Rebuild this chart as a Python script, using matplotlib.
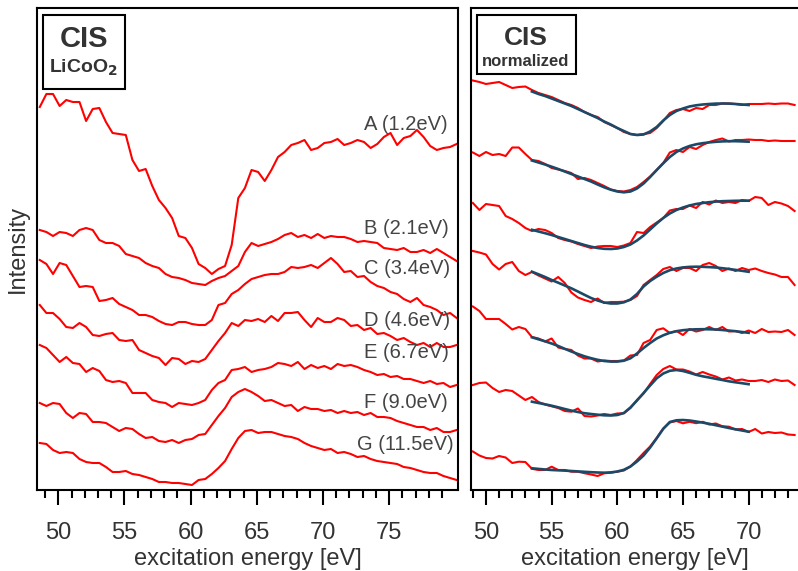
import numpy as np
import matplotlib
matplotlib.use("Agg")
import matplotlib.pyplot as plt
from matplotlib.patches import Rectangle

plt.rcParams["font.family"] = ["Liberation Sans", "DejaVu Sans"]

# ---- left panel: CIS spectra of LiCoO2 (arb. units, vertically offset) ----
energy_left = np.round(np.arange(48.6, 80.15, 0.5), 2)

spec_A = [393, 406, 406, 394, 400, 398, 398, 379, 391, 392,
          378, 367, 366, 365, 340, 329, 331, 314, 300, 292,
          282, 264, 262, 252, 236, 232, 226, 231, 234, 255,
          302, 312, 330, 328, 319, 330, 343, 348, 355, 357,
          360, 350, 352, 357, 358, 361, 355, 357, 360, 358,
          352, 356, 363, 367, 355, 362, 364, 370, 363, 354,
          350, 352, 353, 356]
spec_B = [270, 268, 264, 268, 267, 264, 270, 272, 270, 260,
          257, 257, 254, 246, 244, 242, 237, 234, 232, 226,
          223, 222, 220, 217, 216, 215, 219, 222, 224, 229,
          234, 248, 257, 254, 256, 258, 261, 265, 267, 263,
          265, 262, 266, 262, 264, 263, 263, 261, 258, 259,
          258, 257, 252, 251, 250, 252, 248, 248, 250, 247,
          251, 247, 243, 239]
spec_C = [240, 236, 226, 237, 235, 224, 213, 214, 213, 199,
          200, 202, 196, 193, 190, 185, 185, 183, 179, 176,
          175, 178, 178, 176, 175, 175, 180, 195, 197, 206,
          210, 216, 221, 223, 225, 226, 226, 228, 233, 232,
          233, 235, 232, 237, 242, 236, 228, 229, 223, 224,
          218, 214, 212, 208, 206, 201, 198, 202, 195, 193,
          190, 185, 187, 182]
spec_D = [195, 187, 187, 181, 173, 172, 177, 173, 165, 164,
          166, 167, 160, 159, 160, 150, 147, 144, 142, 135,
          142, 141, 136, 139, 138, 141, 150, 159, 167, 177,
          174, 180, 179, 181, 178, 184, 179, 187, 187, 188,
          180, 173, 182, 178, 178, 182, 180, 174, 175, 170,
          172, 166, 167, 164, 160, 162, 158, 155, 157, 153,
          157, 153, 153, 155]
spec_E = [155, 152, 145, 138, 143, 137, 136, 128, 132, 129,
          120, 118, 119, 117, 107, 107, 107, 100, 98, 97,
          93, 97, 96, 95, 97, 100, 110, 117, 120, 130,
          131, 133, 128, 130, 131, 133, 137, 136, 134, 138,
          131, 135, 132, 134, 131, 136, 134, 135, 133, 130,
          128, 125, 126, 123, 124, 121, 121, 119, 117, 119,
          116, 117, 113, 115]
spec_F = [97, 94, 97, 96, 87, 82, 87, 86, 78, 78,
          77, 73, 69, 72, 71, 66, 62, 63, 59, 58,
          60, 57, 60, 61, 65, 66, 75, 84, 92, 103,
          108, 111, 108, 104, 99, 100, 97, 94, 95, 89,
          93, 91, 91, 89, 90, 87, 89, 87, 88, 85,
          87, 83, 83, 82, 79, 77, 75, 73, 73, 70,
          72, 68, 68, 70]
spec_G = [57, 56, 50, 47, 48, 47, 41, 38, 37, 37,
          33, 28, 28, 29, 26, 25, 23, 21, 18, 18,
          17, 17, 16, 15, 20, 21, 26, 32, 39, 51,
          62, 69, 70, 67, 68, 68, 66, 64, 63, 61,
          57, 54, 52, 50, 51, 47, 48, 46, 43, 44,
          41, 39, 38, 37, 36, 33, 32, 30, 28, 27,
          27, 24, 22, 20]

left_labels = ["A (1.2eV)", "B (2.1eV)", "C (3.4eV)", "D (4.6eV)",
               "E (6.7eV)", "F (9.0eV)", "G (11.5eV)"]
label_x = [73.1, 73.1, 73.1, 73.1, 73.1, 73.1, 72.6]
label_y = [376, 272, 231, 180, 147, 97, 55]

# ---- right panel: normalized spectra with fits ----
energy_right = np.round(np.arange(49.0, 73.55, 0.5), 2)
energy_fit = np.round(np.arange(53.5, 70.05, 0.5), 2)

norm_1 = [419.5, 418, 416, 417, 418, 415, 412, 413, 413.5, 410,
          407, 405, 403, 400, 397, 395, 392, 388, 385, 383,
          378, 375, 372, 368, 366, 365, 366, 367, 372, 379,
          387, 390, 391, 389, 392, 391, 395, 395, 396.5, 396.5,
          396, 395, 396, 396, 396, 396.5, 396, 396.5, 396.5, 395]
norm_2 = [347.5, 344, 348, 345, 346, 344, 352.5, 352.5, 346, 340,
          339, 336, 332, 330.5, 329, 327, 321, 322, 320, 317,
          314, 310.5, 309, 308.5, 310, 313, 318, 323.5, 330, 337,
          347.5, 350, 348, 353, 351, 355, 358, 360, 361.5, 358.5,
          360, 360, 360.5, 360, 360, 359, 359.5, 359, 359, 359]
norm_3 = [297, 290, 296, 295, 294, 284, 281, 277, 272, 269,
          271, 270, 267, 262, 260, 258.5, 256, 254, 252, 253.5,
          254, 254, 253, 254.5, 257, 268, 267, 273, 277.5, 282,
          289.5, 291, 291, 294.5, 292, 298, 295.5, 299.5, 297, 298,
          297, 300, 299, 303, 302, 295, 298, 296.5, 294, 289]
norm_4 = [249, 247.5, 245.5, 236, 230.5, 236, 238, 229, 225, 228,
          224.5, 221.5, 218.5, 223, 217, 207.5, 202.5, 200, 198, 201.5,
          197, 198, 198, 198.3, 200, 204, 215, 220, 225, 231,
          233, 229, 232, 232, 229, 235, 237, 234, 229, 231.5,
          229, 232, 230, 231.5, 229, 227, 225.5, 223, 223, 215]
norm_5 = [193.5, 189, 181, 181, 181, 176, 170.5, 173, 171, 163,
          161.5, 158.5, 161.5, 152.5, 151, 150, 144.5, 141.5, 141.5, 138.5,
          139.5, 139, 139, 139.5, 144.5, 145, 157, 160, 170, 171.7,
          167, 169, 165, 171, 168.5, 170, 173, 170, 173, 168.5,
          169, 167, 169.5, 167, 171, 168, 168.5, 168, 170, 165]
norm_6 = [115, 117, 117.5, 112, 108, 110, 109, 104.5, 100, 103,
          98, 95.5, 93.7, 92, 89, 88.3, 91.5, 84, 83.5, 84.5,
          86, 85, 86.5, 86.7, 92, 100, 106.5, 116, 125, 131,
          134, 130.5, 130.5, 128.5, 125.5, 128, 125.5, 123.5, 120.5, 122.5,
          119.5, 120.5, 119, 119, 120, 118, 120.5, 119, 119.5, 115]
norm_7 = [48.5, 44.5, 42, 41.5, 44, 42.5, 37, 38.3, 38, 31.2,
          30, 30, 33.3, 30, 30, 28.3, 28.3, 26.8, 25.5, 24,
          26.7, 27.3, 28.3, 29.5, 33.5, 40, 47, 53.5, 62, 71.5,
          77.5, 79, 76.7, 78.2, 76.8, 78.2, 75.5, 76.5, 73.7, 73.3,
          70.5, 71, 68, 71, 66.5, 68, 67, 67.5, 65.5, 65]

fit_1 = [408.5, 406, 404, 401.5, 399, 396.5, 394, 391, 388, 385,
         382, 378.5, 375.5, 372, 369, 366, 365, 365.5, 368.5, 373,
         379.5, 385, 389, 391.5, 393.5, 394.7, 395.5, 396, 396.4, 396.5,
         396.4, 396, 395.5, 395]
fit_2 = [339.5, 337.5, 335.5, 333.3, 331, 328.5, 326, 323.5, 321, 318.5,
         315.5, 312.7, 310.3, 308.5, 307.7, 308.5, 311.5, 316.5, 323, 330,
         336.7, 343, 348, 351.5, 354, 355.7, 356.8, 357.6, 358.2, 358.6,
         358.8, 358.8, 358.6, 358.3]
fit_3 = [270.2, 268.5, 266.8, 265, 263, 261, 259, 257, 255, 253.3,
         252, 251.2, 251, 251.5, 253, 255.5, 259.5, 264.5, 270.5, 276.5,
         282, 286.5, 290, 292.5, 294.5, 296, 297, 297.8, 298.4, 298.8,
         299, 299.2, 299.3, 299.3]
fit_4 = [228.3, 225.7, 223, 220, 217.3, 214.5, 211.7, 208.5, 205.2, 202,
         199.5, 197.5, 196.5, 196.5, 197.7, 200.5, 206, 213.5, 219, 223.3,
         227, 229.8, 231.5, 232.6, 233.1, 233.3, 233.2, 232.9, 232.5, 231.8,
         231, 230.1, 229.2, 228.2]
fit_5 = [162.7, 160.7, 158.7, 156.5, 154, 151.2, 148.5, 146, 143.7, 141.8,
         140.2, 139, 138.4, 138.4, 139.3, 141.7, 146.5, 152, 157, 161.5,
         164.7, 167.2, 168.8, 169.8, 170.4, 170.7, 170.8, 170.7, 170.5, 170,
         169.4, 168.8, 168, 167.2]
fit_6 = [98.3, 97, 95.7, 94.3, 92.7, 91, 89.4, 88, 86.8, 86,
         85.3, 84.7, 84.5, 85, 87, 92.5, 99.5, 107, 114.5, 121.7,
         126.5, 129.2, 130, 129, 127.2, 125.2, 123.7, 122.5, 121.2, 120,
         118.7, 117.7, 116.8, 115.8]
fit_7 = [31.7, 31.1, 30.5, 30, 29.7, 29.4, 29, 28.6, 28.2, 27.8,
         27.5, 27.3, 27.6, 28.5, 30.2, 33.5, 38.5, 44.5, 52.5, 61.7,
         71.2, 78, 79.7, 80, 79.5, 78.5, 77.4, 76.2, 74.8, 73.4,
         72, 70.7, 69.5, 68.3]

left_major = [50, 55, 60, 65, 70, 75]
left_minor = [e for e in range(49, 80) if e % 5]
right_major = [50, 55, 60, 65, 70]
right_minor = [e for e in range(49, 74) if e % 5]

RED = "#ff0000"
FIT = "#1b4968"
TXT = "#333333"

fig = plt.figure(figsize=(7.98, 5.71), dpi=100)
ax1 = fig.add_axes([37 / 798, 81 / 571, 421 / 798, 482 / 571])
ax2 = fig.add_axes([471 / 798, 81 / 571, 327 / 798, 482 / 571])

for spec in [spec_A, spec_B, spec_C, spec_D, spec_E, spec_F, spec_G]:
    ax1.plot(energy_left, spec, color=RED, lw=1.5)
for lab, lx, ly in zip(left_labels, label_x, label_y):
    ax1.text(lx, ly, lab, fontsize=14.5, color="#444444", ha="left", va="center")

for spec in [norm_1, norm_2, norm_3, norm_4, norm_5, norm_6, norm_7]:
    ax2.plot(energy_right, spec, color=RED, lw=1.5)
for fit in [fit_1, fit_2, fit_3, fit_4, fit_5, fit_6, fit_7]:
    ax2.plot(energy_fit, fit, color=FIT, lw=1.9)

ax1.set_xlim(48.39, 80.2)
ax2.set_xlim(48.86, 73.76)
ax1.set_xticks(left_major)
ax1.set_xticks(left_minor, minor=True)
ax2.set_xticks(right_major)
ax2.set_xticks(right_minor, minor=True)
for ax in (ax1, ax2):
    ax.set_ylim(10, 492)
    ax.set_yticks([])
    ax.tick_params(axis="x", which="major", direction="out", length=11, width=1.5,
                   labelsize=17, labelcolor=TXT, pad=12)
    ax.tick_params(axis="x", which="minor", direction="out", length=6, width=1.5)
    for sp in ax.spines.values():
        sp.set_linewidth(1.5)
    ax.set_xlabel("excitation energy [eV]", fontsize=17, color=TXT, labelpad=3)
ax2.spines["right"].set_visible(False)
ax1.set_ylabel("Intensity", fontsize=17, color=TXT, labelpad=6)

# title boxes
ax1.add_patch(Rectangle((0.0143, 0.832), 0.195, 0.1535, transform=ax1.transAxes,
                        fill=False, ec="black", lw=1.5, zorder=5))
ax1.text(0.1116, 0.936, "CIS", transform=ax1.transAxes, fontsize=21,
         fontweight="bold", color=TXT, ha="center", va="center")
ax1.text(0.11, 0.876, r"LiCoO$_\mathbf{2}$", transform=ax1.transAxes, fontsize=14,
         fontweight="bold", color=TXT, ha="center", va="center")

ax2.add_patch(Rectangle((0.018, 0.863), 0.303, 0.1225, transform=ax2.transAxes,
                        fill=False, ec="black", lw=1.5, zorder=5))
ax2.text(0.168, 0.938, "CIS", transform=ax2.transAxes, fontsize=19,
         fontweight="bold", color=TXT, ha="center", va="center")
ax2.text(0.168, 0.89, "normalized", transform=ax2.transAxes, fontsize=12,
         fontweight="bold", color=TXT, ha="center", va="center")

fig.savefig("out.png", dpi=100)
